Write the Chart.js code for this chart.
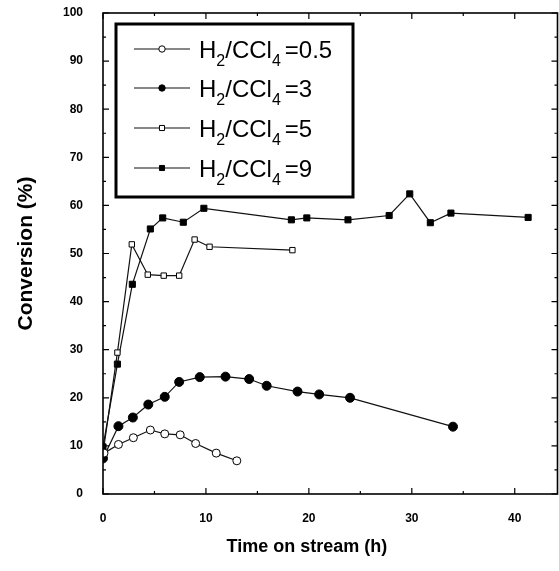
<!DOCTYPE html>
<html>
<head>
<meta charset="utf-8">
<script src="https://cdn.jsdelivr.net/npm/chart.js@4.4.1/dist/chart.umd.min.js"></script>
<style>
  html, body { margin: 0; padding: 0; background: #fff; }
  #wrap { width: 559px; height: 571px; }
</style>
</head>
<body>
<div id="wrap"><canvas id="chart"></canvas></div>
<script>
// values (time in h, conversion in %)
const ratios = ['0.5', '3', '5', '9'];

const time05 = [0.1, 1.5, 2.95, 4.6, 6.0, 7.5, 9.0, 11.0, 13.0];
const conv05 = [8.5, 10.3, 11.7, 13.3, 12.5, 12.3, 10.5, 8.5, 6.9];

const time3 = [0, 1.5, 2.9, 4.4, 6.0, 7.4, 9.4, 11.9, 14.2, 15.9, 18.9, 21.0, 24.0, 34.0];
const conv3 = [7.4, 14.1, 15.9, 18.6, 20.2, 23.3, 24.3, 24.4, 23.9, 22.5, 21.3, 20.7, 20.0, 14.0];

const time5 = [0, 1.4, 2.8, 4.35, 5.9, 7.4, 8.9, 10.35, 18.4];
const conv5 = [8.5, 29.4, 51.9, 45.6, 45.4, 45.4, 52.9, 51.4, 50.7];

const time9 = [0, 1.4, 2.85, 4.6, 5.8, 7.8, 9.8, 18.3, 19.8, 23.8, 27.8, 29.8, 31.8, 33.8, 41.3];
const conv9 = [9.8, 27.0, 43.6, 55.1, 57.4, 56.5, 59.4, 57.0, 57.4, 57.0, 57.9, 62.4, 56.4, 58.4, 57.5];

const xTicks = [0, 10, 20, 30, 40];
const yTicks = [0, 10, 20, 30, 40, 50, 60, 70, 80, 90, 100];

const xTitle = 'Time on stream (h)';
const yTitle = 'Conversion (%)';

const FONT = "'Liberation Sans', Arial, Helvetica, sans-serif";

function toPoints(xs, ys) {
  return xs.map((x, i) => ({ x: x, y: ys[i] }));
}

const markers = [
  { style: 'circle', fill: '#fff', radius: 4 },
  { style: 'circle', fill: '#000', radius: 4.5 },
  { style: 'rect', fill: '#fff', radius: 3.8 },
  { style: 'rect', fill: '#000', radius: 4.3 }
];

const series = [toPoints(time05, conv05), toPoints(time3, conv3), toPoints(time5, conv5), toPoints(time9, conv9)];

const datasets = series.map((pts, i) => ({
  label: 'H2/CCl4=' + ratios[i],
  data: pts,
  showLine: true,
  borderColor: '#111',
  borderWidth: 1.2,
  tension: 0,
  pointStyle: markers[i].style,
  pointRadius: markers[i].radius,
  pointBackgroundColor: markers[i].fill,
  pointBorderColor: '#000',
  pointBorderWidth: 1
}));

// box frame with inward ticks on all four sides, plus the x title
const framePlugin = {
  id: 'frame',
  afterDatasetsDraw(chart) {
    const ctx = chart.ctx;
    const a = chart.chartArea;
    const xs = chart.scales.x, ys = chart.scales.y;
    ctx.save();
    ctx.strokeStyle = '#000';
    ctx.lineWidth = 1.6;
    ctx.strokeRect(a.left, a.top, a.right - a.left - 1.5, a.bottom - a.top);
    ctx.lineWidth = 1.2;
    ctx.beginPath();
    for (let v = 0; v <= xs.max; v += 5) {
      const px = xs.getPixelForValue(v);
      const len = v % 10 === 0 ? 6 : 3;
      ctx.moveTo(px, a.bottom); ctx.lineTo(px, a.bottom - len);
      ctx.moveTo(px, a.top); ctx.lineTo(px, a.top + len);
    }
    for (let v = 0; v <= 100; v += 5) {
      const py = ys.getPixelForValue(v);
      const len = v % 10 === 0 ? 6 : 3;
      ctx.moveTo(a.left, py); ctx.lineTo(a.left + len, py);
      ctx.moveTo(a.right - 1.5, py); ctx.lineTo(a.right - 1.5 - len, py);
    }
    ctx.stroke();

    // x title sits a bit left of the plot centre in the original
    ctx.fillStyle = '#000';
    ctx.font = 'bold 18px ' + FONT;
    ctx.textAlign = 'center';
    ctx.textBaseline = 'middle';
    ctx.fillText(xTitle, xs.getPixelForValue(19.8), a.bottom + 53);
    ctx.restore();
  }
};

// legend box, labels drawn with real subscripts
const legendPlugin = {
  id: 'boxLegend',
  afterDraw(chart) {
    const ctx = chart.ctx;
    const box = { left: 116, top: 24, right: 353, bottom: 197 };
    const rows = [49, 88, 128, 168];
    ctx.save();
    ctx.fillStyle = '#fff';
    ctx.fillRect(box.left, box.top, box.right - box.left, box.bottom - box.top);
    ctx.strokeStyle = '#000';
    ctx.lineWidth = 3;
    ctx.strokeRect(box.left, box.top, box.right - box.left, box.bottom - box.top);

    chart.data.datasets.forEach((ds, i) => {
      const y = rows[i];
      ctx.strokeStyle = '#111';
      ctx.lineWidth = 1.2;
      ctx.beginPath();
      ctx.moveTo(134, y); ctx.lineTo(190, y);
      ctx.stroke();

      ctx.fillStyle = markers[i].fill;
      ctx.strokeStyle = '#000';
      ctx.lineWidth = 1;
      Chart.helpers.drawPoint(ctx, {
        pointStyle: markers[i].style,
        radius: markers[i].style === 'circle' ? 3.2 : 3.6,
        rotation: 0,
        borderWidth: 1
      }, 162, y);

      // H2/CCl4=r
      const big = '24px ' + FONT, small = '16px ' + FONT;
      const base = y + 9, subBase = y + 17;
      let x = 199;
      ctx.fillStyle = '#000';
      ctx.textBaseline = 'alphabetic';
      ctx.textAlign = 'left';
      const parts = [['H', big, base], ['2', small, subBase], ['/CCl', big, base], ['4', small, subBase], ['=' + ratios[i], big, base]];
      parts.forEach((p, k) => {
        ctx.font = p[1];
        if (k === 4) x += 4;
        ctx.fillText(p[0], x, p[2]);
        x += ctx.measureText(p[0]).width;
      });
    });
    ctx.restore();
  }
};

new Chart(document.getElementById('chart'), {
  type: 'scatter',
  data: { datasets: datasets },
  options: {
    responsive: true,
    maintainAspectRatio: false,
    animation: false,
    layout: { autoPadding: false, padding: { top: 13, right: 0, bottom: 0, left: 0 } },
    plugins: {
      legend: { display: false },
      tooltip: { enabled: false }
    },
    scales: {
      x: {
        type: 'linear',
        min: 0,
        max: 44.3,
        afterBuildTicks: (scale) => { scale.ticks = xTicks.map(v => ({ value: v })); },
        afterFit: (scale) => {
          scale.height = 77;
          scale.paddingLeft = 0;
          scale.paddingRight = 0;
        },
        grid: { display: false },
        border: { display: false },
        ticks: {
          color: '#000',
          padding: 9,
          maxRotation: 0,
          font: { family: FONT, size: 12, weight: 'bold' }
        }
      },
      y: {
        min: 0,
        max: 100,
        afterBuildTicks: (scale) => { scale.ticks = yTicks.map(v => ({ value: v })); },
        afterFit: (scale) => {
          scale.width = 103;
          scale.paddingTop = 0;
          scale.paddingBottom = 0;
        },
        grid: { display: false },
        border: { display: false },
        ticks: {
          color: '#000',
          padding: 12,
          font: { family: FONT, size: 12, weight: 'bold' }
        },
        title: {
          display: true,
          text: yTitle,
          color: '#000',
          padding: { top: 14, bottom: 0 },
          font: { family: FONT, size: 21, weight: 'bold' }
        }
      }
    }
  },
  plugins: [framePlugin, legendPlugin]
});
</script>
</body>
</html>
